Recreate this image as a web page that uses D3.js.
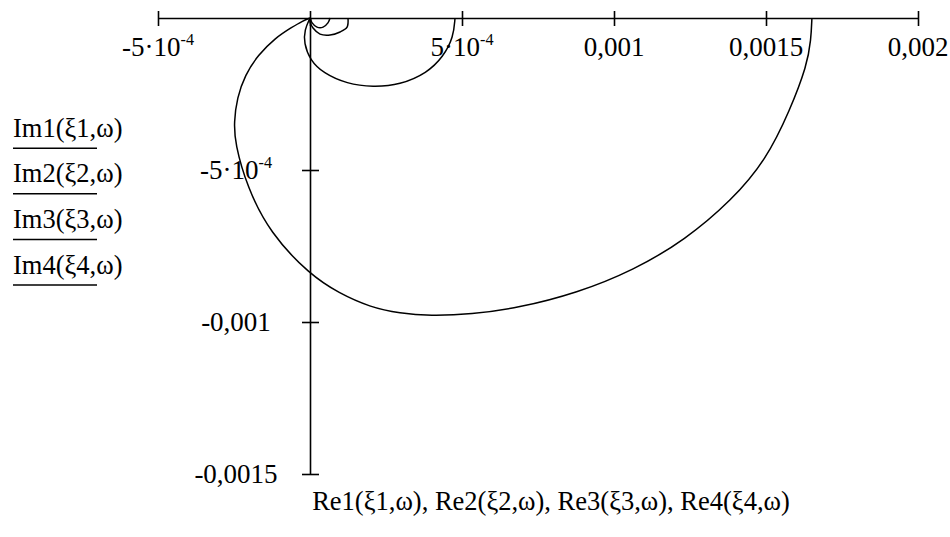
<!DOCTYPE html>
<html>
<head>
<meta charset="utf-8">
<script src="https://cdnjs.cloudflare.com/ajax/libs/d3/7.8.5/d3.min.js"></script>
<style>
  body { margin: 0; background: #fff; }
  svg text { font-family: "Liberation Serif", "Times New Roman", serif; fill: #000; }
</style>
</head>
<body>
<svg></svg>
<script>

// values, in units of 1e-4
var re1 = [16.51, 16.48, 16.35, 15.79, 15.00, 13.88, 12.34, 10.66, 8.78, 6.84, 5.30, 3.95, 2.96, 1.97, 0.95, 0, -1.32, -2.07, -2.47, -2.50, -2.40, -2.14, -1.71, -1.15, -0.59, -0.25, 0]
var im1 = [0, -0.72, -1.55, -3.03, -4.67, -5.99, -7.30, -8.29, -9.05, -9.54, -9.75, -9.80, -9.72, -9.51, -9.05, -8.45, -7.07, -5.56, -4.11, -3.42, -2.63, -1.88, -1.22, -0.66, -0.30, -0.10, 0]

var re2 = [4.77, 4.72, 4.38, 3.85, 2.96, 2.07, 1.22, 0.43, 0, -0.20, -0.18, 0]
var im2 = [0, -0.63, -1.28, -1.81, -2.20, -2.27, -2.17, -1.81, -1.38, -0.82, -0.39, 0]

var re3 = [1.25, 1.22, 0.99, 0.66, 0.33, 0.10, 0, 0]
var im3 = [0, -0.30, -0.46, -0.56, -0.53, -0.33, -0.13, 0]

var re4 = [0.66, 0.59, 0.43, 0.23, 0.07, 0]
var im4 = [0, -0.16, -0.30, -0.30, -0.16, 0]

var xTicks = [-5e-4, 0, 5e-4, 0.001, 0.0015, 0.002]
var xTickLabels = [["-5·10", "-4"], ["", ""], ["5·10", "-4"], ["0,001", ""], ["0,0015", ""], ["0,002", ""]]
var yTicks = [-5e-4, -0.001, -0.0015]
var yTickLabels = [["-5·10", "-4"], ["-0,001", ""], ["-0,0015", ""]]

var legendLabels = ["Im1(ξ1,ω)", "Im2(ξ2,ω)", "Im3(ξ3,ω)", "Im4(ξ4,ω)"]
var xTitle = "Re1(ξ1,ω), Re2(ξ2,ω), Re3(ξ3,ω), Re4(ξ4,ω)"

var drawChart = function()
{
  var width = 950;
  var height = 537;
  var fontSize = 27;

  var svg = d3.select("svg")
    .attr("width", width)
    .attr("height", height)

  var xScale = d3.scaleLinear()
                .domain([-5e-4, 0.002])
                .range([158, 918])

  var yScale = d3.scaleLinear()
                .domain([0, -0.0015])
                .range([18, 474])

  var x0 = xScale(0);
  var y0 = yScale(0);

  // x axis along the top (Im = 0)
  var xAxis = d3.axisBottom(xScale)
                .tickValues(xTicks)
                .tickSizeOuter(0)
                .tickFormat("")

  var gx = svg.append("g")
     .attr("transform", "translate(0," + y0 + ")")
     .call(xAxis)

  gx.select(".domain").attr("stroke", "#000").attr("stroke-width", 1.6)
  gx.selectAll(".tick line")
     .attr("y1", -7).attr("y2", 8)
     .attr("stroke", "#000").attr("stroke-width", 1.6)

  // y axis through Re = 0
  var yAxis = d3.axisLeft(yScale)
                .tickValues(yTicks)
                .tickSizeOuter(0)
                .tickFormat("")

  var gy = svg.append("g")
     .attr("transform", "translate(" + x0 + ",0)")
     .call(yAxis)

  gy.select(".domain").attr("stroke", "#000").attr("stroke-width", 1.6)
  gy.selectAll(".tick line")
     .attr("x1", -8).attr("x2", 9)
     .attr("stroke", "#000").attr("stroke-width", 1.6)

  var writeLabel = function(sel, parts)
  {
    sel.append("tspan").text(parts[0])
    if (parts[1] != "")
    {
      sel.append("tspan")
         .attr("dy", -11)
         .style("font-size", (fontSize * 0.6) + "px")
         .text(parts[1])
    }
  }

  xTicks.forEach(function(v, i)
  {
    var t = svg.append("text")
       .attr("x", xScale(v))
       .attr("y", y0 + 38)
       .attr("text-anchor", "middle")
       .style("font-size", fontSize + "px")
    writeLabel(t, xTickLabels[i])
  })

  yTicks.forEach(function(v, i)
  {
    var t = svg.append("text")
       .attr("x", 236)
       .attr("y", yScale(v) + 9)
       .attr("text-anchor", "middle")
       .style("font-size", fontSize + "px")
    writeLabel(t, yTickLabels[i])
  })

  // big loops get a smoothing spline, the tiny ones go through the points
  var makeLine = function(curve)
  {
    return d3.line()
            .x(function(d){return xScale(d[0]);})
            .y(function(d){return yScale(d[1]);})
            .curve(curve)
  }

  var series = [
    [re1, im1, d3.curveBasis],
    [re2, im2, d3.curveBasis],
    [re3, im3, d3.curveCatmullRom.alpha(0.5)],
    [re4, im4, d3.curveCatmullRom.alpha(0.5)]
  ]

  series.forEach(function(s)
  {
    var pts = s[0].map(function(r, i){ return [r * 1e-4, s[1][i] * 1e-4]; })
    svg.append("path")
       .datum(pts)
       .attr("d", makeLine(s[2]))
       .attr("fill", "none")
       .attr("stroke", "#000")
       .attr("stroke-width", 1.5)
  })

  // legend: labels with line samples underneath
  legendLabels.forEach(function(name, i)
  {
    var base = 136.7 + i * 45.6
    svg.append("text")
       .attr("x", 13)
       .attr("y", base)
       .style("font-size", "26.5px")
       .text(name)
    svg.append("line")
       .attr("x1", 13).attr("x2", 97)
       .attr("y1", base + 11.5).attr("y2", base + 11.5)
       .attr("stroke", "#000")
       .attr("stroke-width", 1.5)
  })

  svg.append("text")
     .attr("x", 551)
     .attr("y", 510)
     .attr("text-anchor", "middle")
     .style("font-size", "26.5px")
     .text(xTitle)
}

drawChart();

</script>
</body>
</html>
